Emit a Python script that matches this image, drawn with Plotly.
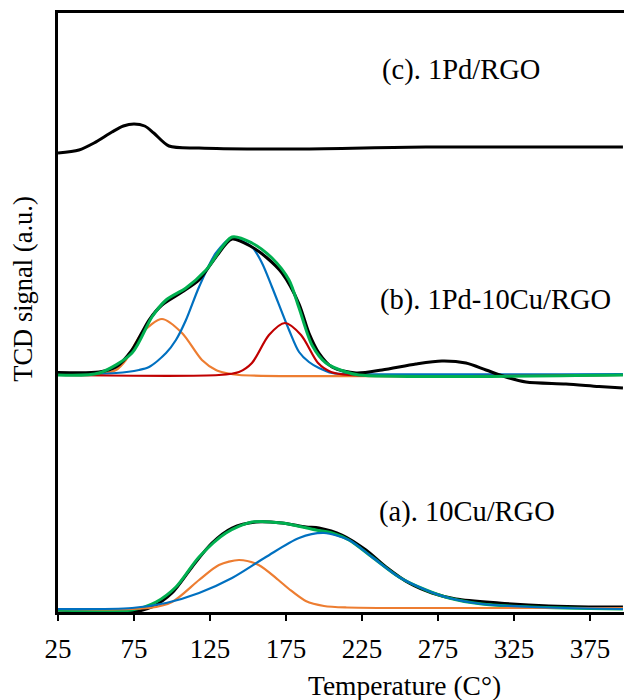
import plotly.graph_objects as go

# ---- TPR profiles (temperature in °C, TCD signal in arbitrary units) ----

# (c) 1Pd/RGO - measured
c_temp = [25, 38.8, 48.7, 60.5, 68, 75, 82, 88, 98.0, 117.8, 183.6, 267.1, 396.7]
c_signal = [459, 462, 469, 480, 486, 488, 486, 479, 466, 464, 463, 465, 465]

# (b) 1Pd-10Cu/RGO - measured
b_temp = [25, 52, 63.2, 73.7, 84.9, 93.4, 106.6, 117.8, 128.9, 139.5, 152.6, 161.8,
          172.4, 183.6, 190.1, 196.7, 205.3, 221.1, 238.2, 260.5, 277.6, 293.4,
          306.6, 319.7, 332.9, 359.2, 380.9, 396.7]
b_signal = [239.5, 240, 245, 262, 292, 307, 320, 332, 355, 373, 365, 355,
            339, 308, 279, 259, 245, 239, 242, 248, 251, 249,
            242, 235, 230, 228, 225.5, 224]

# (b) fitted envelope
b_fit_temp = [25, 52, 73.7, 86.8, 96.1, 109.2, 122.4, 139.5, 152.6, 165.8, 177,
              183.6, 192.1, 201.3, 214.5, 223, 396.7]
b_fit_signal = [237, 239, 259, 295, 312, 324, 342, 375, 369, 354, 332,
                304, 267, 249, 240, 237, 237]

# (b) deconvoluted peaks
b_p1_temp = [25, 52, 63.2, 69.7, 80.3, 93.4, 106.6, 119.7, 128.9, 135.5, 144.1, 396.7]
b_p1_signal = [237, 238, 242, 252, 279, 293, 279, 252, 242, 239, 237, 237]

b_p2_temp = [25, 63.2, 78.3, 84.9, 96.1, 102.6, 109.2, 117.8, 128.9, 139.5, 152.6,
             159.2, 165.8, 177, 183.6, 190.1, 196.7, 205.3, 223, 396.7]
b_p2_signal = [238, 239, 242, 245, 259, 272, 292, 325, 359, 374, 365,
               349, 325, 282, 260, 250, 244, 239, 238, 238]

b_p3_temp = [25, 130.9, 144.1, 152.6, 163.8, 174.3, 184.9, 196.1, 204.6, 216.4, 396.7]
b_p3_signal = [237, 237, 240, 249, 277, 289, 277, 249, 240, 237, 237]

# (a) 10Cu/RGO - measured
a_temp = [25, 52, 73.7, 86.8, 100, 113.2, 126.3, 139.5, 155.3, 172.4, 188.2, 196.7,
          211.8, 227.6, 240.8, 255.9, 271.1, 286.8, 315.1, 348, 374.3, 396.7]
a_signal = [2, 1, 0, 5, 19, 45, 69, 84, 90, 89, 85, 84,
            77, 62, 45, 29, 19, 13, 9, 6, 5, 5]

# (a) fitted envelope
a_fit_temp = [25, 73.7, 89.5, 102.6, 117.8, 135.5, 152.6, 172.4, 194.7, 205.3, 216.4,
              231.6, 249.3, 267.1, 282.2, 303.9, 336.8, 396.7]
a_fit_signal = [2, 2, 10, 25, 55, 79, 90, 89, 82, 79, 72,
                55, 35, 22, 14, 8, 5, 3]

# (a) deconvoluted peaks
a_p1_temp = [25, 84.9, 100, 117.8, 130.9, 144.1, 157, 170, 177, 188, 200, 215, 315.1, 396.7]
a_p1_signal = [3, 4, 10, 32, 47, 52, 47, 32, 23, 11, 6, 4.5, 4, 4]

a_p2_temp = [25, 73.7, 96.1, 117.8, 139.5, 161.8, 183.6, 200, 216.4, 231.6, 249.3,
             267.1, 282.2, 303.9, 336.8, 396.7]
a_p2_signal = [3, 4, 9, 19, 34, 55, 74, 79, 72, 55, 35,
               22, 14, 8, 5, 3]

tick_values = [25, 75, 125, 175, 225, 275, 325, 375]
sample_labels = ["(c). 1Pd/RGO", "(b). 1Pd-10Cu/RGO", "(a). 10Cu/RGO"]
label_temp = [290, 313, 294]
label_signal = [542, 312, 100]

BLACK = "#000000"
GREEN = "#00B050"
BLUE = "#0070C0"
ORANGE = "#ED7D31"
RED = "#C00000"
FONT = "Liberation Serif"


def line(x, y, color, width):
    return go.Scatter(x=x, y=y, mode="lines",
                      line=dict(color=color, width=width, shape="spline", smoothing=0.8),
                      showlegend=False, hoverinfo="skip")


fig = go.Figure()

# (c)
fig.add_trace(line(c_temp, c_signal, BLACK, 3))

# (b)
fig.add_trace(line(b_p1_temp, b_p1_signal, ORANGE, 2.2))
fig.add_trace(line(b_p2_temp, b_p2_signal, BLUE, 2.2))
fig.add_trace(line(b_p3_temp, b_p3_signal, RED, 2.2))
fig.add_trace(line(b_temp, b_signal, BLACK, 3))
fig.add_trace(line(b_fit_temp, b_fit_signal, GREEN, 3))

# (a)
fig.add_trace(line(a_temp, a_signal, BLACK, 3))
fig.add_trace(line(a_fit_temp, a_fit_signal, GREEN, 3))
fig.add_trace(line(a_p1_temp, a_p1_signal, ORANGE, 2.2))
fig.add_trace(line(a_p2_temp, a_p2_signal, BLUE, 2.2))

for text, tx, ty in zip(sample_labels, label_temp, label_signal):
    fig.add_annotation(x=tx, y=ty, xref="x", yref="y", text=text, showarrow=False,
                       font=dict(family=FONT, size=28.5, color=BLACK))

# axis titles
fig.add_annotation(x=0, y=0.538, xref="paper", yref="paper", xshift=-35,
                   xanchor="center", yanchor="middle",
                   text="TCD signal (a.u.)", textangle=-90, showarrow=False,
                   font=dict(family=FONT, size=26.5, color=BLACK))
fig.add_annotation(x=0.613, y=-0.1235, xref="paper", yref="paper",
                   xanchor="center", yanchor="middle",
                   text="Temperature (C°)", showarrow=False,
                   font=dict(family=FONT, size=27.5, color=BLACK))

fig.update_layout(
    width=624, height=700,
    margin=dict(l=58, r=0, t=13, b=88),
    paper_bgcolor="white", plot_bgcolor="white",
    font=dict(family=FONT, color=BLACK),
    xaxis=dict(range=[25, 397.4], tickmode="array", tickvals=tick_values,
               ticks="outside", ticklen=6, tickwidth=2, tickcolor=BLACK,
               ticklabelstandoff=5,
               showline=True, linecolor=BLACK, linewidth=2.5, mirror=True,
               showgrid=False, zeroline=False,
               tickfont=dict(family=FONT, size=27, color=BLACK)),
    yaxis=dict(range=[0, 599], showticklabels=False, ticks="",
               showline=True, linecolor=BLACK, linewidth=2.5, mirror=False,
               showgrid=False, zeroline=False),
)

fig.write_html("out.html")
